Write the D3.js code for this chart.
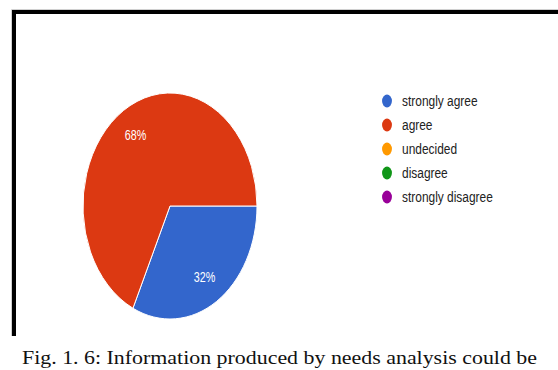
<!DOCTYPE html>
<html>
<head>
<meta charset="utf-8">
<script src="https://cdn.jsdelivr.net/npm/d3@7"></script>
<style>
  html, body { margin: 0; padding: 0; background: #fff; }
  svg { display: block; }
</style>
</head>
<body>
<svg id="chart" width="558" height="370"></svg>
<script>
// Survey responses (percent of respondents)
const categories = ["strongly agree", "agree", "undecided", "disagree", "strongly disagree"];
const values = [32, 68, 0, 0, 0];
const colors = ["#3366cc", "#dc3912", "#ff9900", "#109618", "#990099"];
const caption = "Fig. 1. 6: Information produced by needs analysis could be";

const svg = d3.select("#chart");

// Frame around the figure
svg.append("path")
  .attr("d", "M11.5,336 V9.5 H558")
  .attr("fill", "none").attr("stroke", "#d0d0d0").attr("stroke-width", 1);
svg.append("path")
  .attr("d", "M14,336 V12 H558")
  .attr("fill", "none").attr("stroke", "#000").attr("stroke-width", 4);

// The chart is laid out in its own coordinates then squeezed horizontally
const sx = 0.77;
const g = svg.append("g").attr("transform", `scale(${sx},1)`);

const radius = 113;
const cx = 170 / sx, cy = 206;

const pie = d3.pie()
  .value(d => d.value)
  .sort(null)
  .startAngle(Math.PI / 2)
  .endAngle(Math.PI / 2 + 2 * Math.PI);

const data = categories.map((c, i) => ({ name: c, value: values[i], color: colors[i] }));
const arcs = pie(data).filter(d => d.data.value > 0);

const arc = d3.arc().innerRadius(0).outerRadius(radius);
const labelArc = d3.arc().innerRadius(radius * 0.74).outerRadius(radius * 0.74);

const pg = g.append("g").attr("transform", `translate(${cx},${cy})`);
pg.selectAll("path.slice")
  .data(arcs)
  .join("path")
  .attr("class", "slice")
  .attr("d", arc)
  .attr("fill", d => d.data.color)
  .attr("stroke", "#fff")
  .attr("stroke-width", 1)
  .attr("vector-effect", "non-scaling-stroke");

const total = d3.sum(values);
pg.selectAll("text.pct")
  .data(arcs)
  .join("text")
  .attr("class", "pct")
  .attr("transform", d => `translate(${labelArc.centroid(d)})`)
  .attr("text-anchor", "middle")
  .attr("dy", "0.36em")
  .attr("fill", "#fff")
  .attr("font-family", "Liberation Sans, Arial, sans-serif")
  .attr("font-size", 14)
  .text(d => Math.round(d.data.value / total * 100) + "%");

// Legend
const legend = g.append("g").attr("transform", `translate(${387 / sx},101)`);
const rows = legend.selectAll("g.row")
  .data(data)
  .join("g")
  .attr("class", "row")
  .attr("transform", (d, i) => `translate(0,${i * 24})`);
rows.append("circle")
  .attr("r", 6.4)
  .attr("fill", d => d.color);
rows.append("text")
  .attr("x", (402 - 387) / sx)
  .attr("dy", "0.35em")
  .attr("fill", "#222")
  .attr("font-family", "Liberation Sans, Arial, sans-serif")
  .attr("font-size", 15.5)
  .text(d => d.name);

// Caption
svg.append("text")
  .attr("x", 22)
  .attr("y", 364)
  .attr("fill", "#111")
  .attr("font-family", "Liberation Serif, Times New Roman, serif")
  .attr("font-size", 19)
  .attr("textLength", 515)
  .attr("lengthAdjust", "spacingAndGlyphs")
  .text(caption);
</script>
</body>
</html>
